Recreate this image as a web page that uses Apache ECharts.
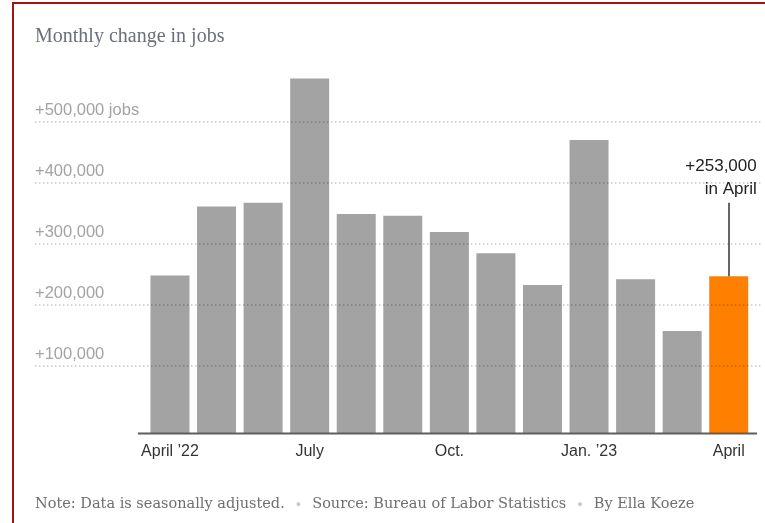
<!DOCTYPE html>
<html>
<head>
<meta charset="utf-8">
<script src="https://cdn.jsdelivr.net/npm/echarts@6/dist/echarts.min.js"></script>
<style>
html,body{margin:0;padding:0;background:#fff;}
#c{width:765px;height:523px;}
</style>
</head>
<body>
<div id="c"></div>
<script>
const categories = ["Apr 2022","May 2022","Jun 2022","Jul 2022","Aug 2022","Sep 2022","Oct 2022","Nov 2022","Dec 2022","Jan 2023","Feb 2023","Mar 2023","Apr 2023"];
const xTickLabels = ["April \u201922","","","July","","","Oct.","","","Jan. \u201923","","","April"];
const jobsChange = [254000,365000,371000,571000,353000,350000,324000,290000,239000,472000,248000,165000,253000];
const yTickValues = [100000,200000,300000,400000,500000];
const yTickLabels = ["+100,000","+200,000","+300,000","+400,000","+500,000 jobs"];
const annotationText = ["+253,000","in April"];
const titleText = "Monthly change in jobs";
const footerParts = ["Note: Data is seasonally adjusted.","Source: Bureau of Labor Statistics","By Ella Koeze"];

const last = jobsChange.length - 1;
const chart = echarts.init(document.getElementById('c'), null, {renderer:'canvas'});
const sans = 'Arial, "Liberation Sans", sans-serif';
const serif = 'Georgia, "Liberation Serif", serif';
const wideSerif = '"DejaVu Serif", Georgia, serif';

const option = {
  backgroundColor:'#fff',
  animation:false,
  title:{
    text:titleText, left:30, top:22,
    textStyle:{fontFamily:serif, fontSize:20, fontWeight:'normal', color:'#6b6f78'}
  },
  graphic:[
    {type:'rect', shape:{x:13, y:3, width:800, height:600}, style:{fill:null, stroke:'#a31515', lineWidth:2}, silent:true},
    {type:'line', shape:{x1:138, y1:433.5, x2:757, y2:433.5}, style:{stroke:'#5e5e5e', lineWidth:2}, z:20},
    {type:'text', left:35, top:497, style:{
      rich:{
        a:{fontFamily:wideSerif, fontSize:14.5, fill:'#6f6f6f'},
        b:{fontFamily:sans, fontSize:9, fill:'#c8c8c8', padding:[0,11,0,11]}
      },
      text:'{a|'+footerParts[0]+'}{b|\u25CF}{a|'+footerParts[1]+'}{b|\u25CF}{a|'+footerParts[2]+'}'
    }}
  ],
  grid:[
    {left:146.7, right:13, top:60.4, bottom:89.5},
    {left:35, right:2, top:121.7, bottom:96.3}
  ],
  xAxis:[
    {type:'category', gridIndex:0, data:categories, boundaryGap:true,
     axisLine:{show:false}, axisTick:{show:false},
     axisLabel:{interval:0, margin:10, fontFamily:sans, fontSize:16, color:'#333',
       formatter:(v,i)=>xTickLabels[i]}},
    {type:'value', gridIndex:1, show:false, min:0, max:1}
  ],
  yAxis:[
    {type:'value', gridIndex:0, min:0, max:600000, show:false},
    {type:'value', gridIndex:1, min:0, max:500000, interval:100000, z:10,
     axisLine:{show:false}, axisTick:{show:false},
     splitLine:{show:true, showMinLine:false, lineStyle:{color:'rgba(0,0,0,0.17)', width:2, type:[1.5,2.5]}},
     axisLabel:{inside:true, margin:0, verticalAlign:'bottom', lineHeight:16, padding:[0,0,3,0],
       fontFamily:sans, fontSize:16.5, color:'#a3a3a3',
       formatter:(v)=>{const k=yTickValues.indexOf(v); return k>=0?yTickLabels[k]:'';}}}
  ],
  series:[
    {type:'bar', xAxisIndex:0, yAxisIndex:0, barWidth:39,
     data:jobsChange.map((v,i)=>({value:v,
        itemStyle:{color: i===last ? '#ff7f00' : '#a3a3a3'},
        label: i===last ? {show:true, position:'top', distance:75, align:'right', offset:[28,0],
           formatter:annotationText.join('\n'), fontFamily:sans, fontSize:17, lineHeight:23, color:'#222'} : {show:false}
     })),
     markLine:{silent:true, symbol:'none', label:{show:false},
       lineStyle:{color:'#333', width:1.5, type:'solid'},
       data:[[{coord:[last, jobsChange[last]]},{coord:[last, jobsChange[last]+118000]}]]}
    }
  ]
};
chart.setOption(option);
</script>
</body>
</html>
